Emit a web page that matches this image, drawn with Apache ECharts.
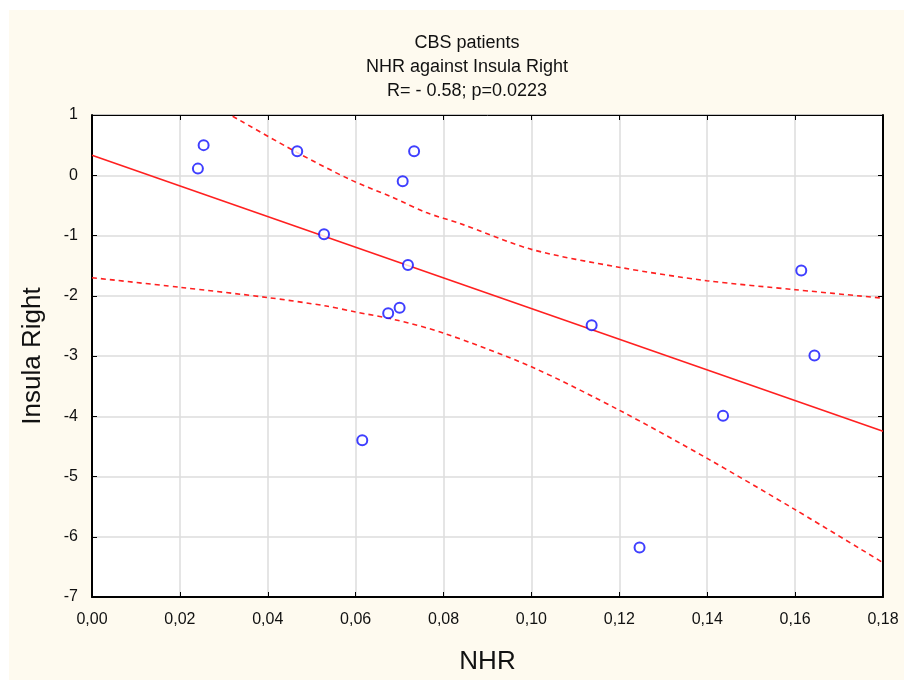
<!DOCTYPE html>
<html lang="en">
<head>
    <meta charset="UTF-8">
    <title>CBS patients</title>
    <script src="https://cdn.jsdelivr.net/npm/echarts@6/dist/echarts.min.js"></script>
    <style>
        html, body { margin: 0; padding: 0; background: #ffffff; }
    </style>
</head>
<body>
<div id="chart" style="width: 904px;height:680px;"></div>
<script>
    // scatter points (NHR, Insula Right)
    const nhr = [0.0241, 0.0254, 0.0467, 0.0733, 0.0707, 0.0528, 0.0719, 0.0674, 0.0700,
        0.0615, 0.1137, 0.1246, 0.1436, 0.1614, 0.1644];
    const insulaRight = [0.11, 0.50, 0.40, 0.40, -0.10, -0.98, -1.49, -2.29, -2.20,
        -4.40, -2.49, -6.18, -3.99, -1.58, -2.99];

    // fitted line, read at both ends
    const fitX = [0.0, 0.18];
    const fitY = [0.33, -4.25];

    // 95% bands
    const upperX = [0.0320, 0.0466, 0.0587, 0.0685, 0.0761, 0.0837, 0.1000, 0.1202, 0.1399, 0.1601, 0.1800];
    const upperY = [0.98, 0.38, -0.07, -0.37, -0.62, -0.80, -1.23, -1.53, -1.75, -1.90, -2.04];
    const lowerX = [0.0, 0.02, 0.04, 0.0533, 0.06, 0.0685, 0.08, 0.10, 0.12, 0.14, 0.16, 0.18];
    const lowerY = [-1.70, -1.86, -2.03, -2.17, -2.27, -2.39, -2.62, -3.18, -3.90, -4.70, -5.55, -6.43];

    const zip = (a, b) => a.map((v, i) => [v, b[i]]);
    const narrow = '"Liberation Sans Narrow", "Arial Narrow", "Liberation Sans", Arial, sans-serif';

    let chart = echarts.init(document.getElementById('chart'));
    const bandStyle = {color: '#ff2020', width: 1.6, type: [5, 4]};

    chart.setOption({
        backgroundColor: '#ffffff',
        animation: false,
        graphic: [{
            type: 'rect',
            z: -10,
            shape: {x: 9, y: 10, width: 895, height: 670},
            style: {fill: '#fefaef'}
        }],
        title: {
            text: 'CBS patients\nNHR against Insula Right\nR= - 0.58; p=0.0223',
            left: 462,
            top: 26,
            textAlign: 'center',
            textStyle: {
                fontFamily: narrow,
                fontWeight: 'normal',
                fontSize: 18,
                lineHeight: 24,
                color: '#111111'
            }
        },
        grid: {
            left: 92,
            right: 21,
            top: 115,
            bottom: 82,
            show: true,
            backgroundColor: '#ffffff',
            borderColor: '#000000',
            borderWidth: 1
        },
        xAxis: [{
            type: 'value',
            min: 0,
            max: 0.18,
            interval: 0.02,
            name: 'NHR',
            nameLocation: 'middle',
            nameGap: 52,
            nameTextStyle: {fontFamily: 'Liberation Sans, Arial, sans-serif', fontSize: 26, color: '#111111'},
            axisLine: {onZero: false, lineStyle: {color: '#000000', width: 2}},
            axisTick: {inside: true, length: 5, lineStyle: {color: '#000000'}},
            axisLabel: {
                fontFamily: narrow, fontSize: 16, color: '#111111', margin: 15,
                formatter: v => v.toFixed(2).replace('.', ',')
            },
            splitLine: {lineStyle: {color: '#dcdcdc', width: 1.5}}
        }, {
            type: 'value',
            position: 'top',
            min: 0,
            max: 0.18,
            interval: 0.02,
            axisLine: {onZero: false, lineStyle: {color: '#000000', width: 1}},
            axisTick: {inside: true, length: 5, lineStyle: {color: '#000000'}},
            axisLabel: {show: false},
            splitLine: {show: false}
        }],
        yAxis: [{
            type: 'value',
            min: -7,
            max: 1,
            interval: 1,
            name: 'Insula Right',
            nameLocation: 'middle',
            nameGap: 46,
            nameTextStyle: {fontFamily: 'Liberation Sans, Arial, sans-serif', fontSize: 26, color: '#111111'},
            axisLine: {show: true, onZero: false, lineStyle: {color: '#000000', width: 2}},
            axisTick: {show: true, inside: true, length: 5, lineStyle: {color: '#000000'}},
            axisLabel: {fontFamily: narrow, fontSize: 16, color: '#111111', margin: 14},
            splitLine: {lineStyle: {color: '#dcdcdc', width: 1.5}}
        }, {
            type: 'value',
            position: 'right',
            min: -7,
            max: 1,
            interval: 1,
            axisLine: {show: true, onZero: false, lineStyle: {color: '#000000', width: 2}},
            axisTick: {show: true, inside: true, length: 5, lineStyle: {color: '#000000'}},
            axisLabel: {show: false},
            splitLine: {show: false}
        }],
        series: [{
            type: 'line',
            data: zip(fitX, fitY),
            symbol: 'none',
            lineStyle: {color: '#ff2020', width: 1.6},
            z: 3
        }, {
            type: 'line',
            data: zip(upperX, upperY),
            symbol: 'none',
            smooth: 0.3,
            lineStyle: bandStyle,
            z: 3
        }, {
            type: 'line',
            data: zip(lowerX, lowerY),
            symbol: 'none',
            smooth: 0.3,
            lineStyle: bandStyle,
            z: 3
        }, {
            type: 'scatter',
            data: zip(nhr, insulaRight),
            symbol: 'circle',
            symbolSize: 10,
            itemStyle: {color: '#ffffff', borderColor: '#0f0fff', borderWidth: 2},
            z: 4
        }]
    });
</script>
</body>
</html>
